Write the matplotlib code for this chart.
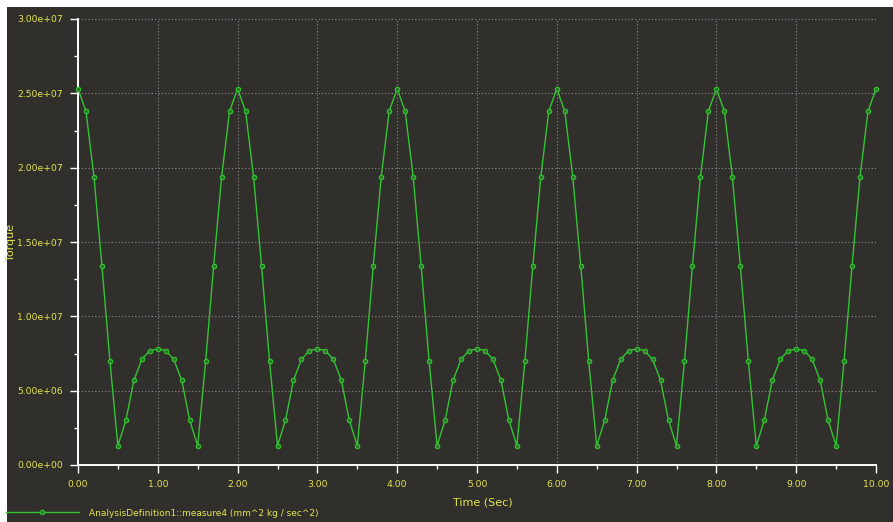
"""Torque vs time, dark analysis-tool style."""
import matplotlib
matplotlib.use('Agg')
import matplotlib.pyplot as plt
import numpy as np
from matplotlib.patches import Rectangle
from matplotlib.ticker import MultipleLocator, FormatStrFormatter

# sample times (s), every 0.1 s from 0 to 10
time_s = np.round(np.arange(0, 101) * 0.1, 1)

# torque values, in units of 1e7
torque_e7 = [
    2.53, 2.38, 1.94, 1.34, 0.70, 0.13, 0.30, 0.57, 0.71, 0.77,
    0.78, 0.77, 0.71, 0.57, 0.30, 0.13, 0.70, 1.34, 1.94, 2.38,
    2.53, 2.38, 1.94, 1.34, 0.70, 0.13, 0.30, 0.57, 0.71, 0.77,
    0.78, 0.77, 0.71, 0.57, 0.30, 0.13, 0.70, 1.34, 1.94, 2.38,
    2.53, 2.38, 1.94, 1.34, 0.70, 0.13, 0.30, 0.57, 0.71, 0.77,
    0.78, 0.77, 0.71, 0.57, 0.30, 0.13, 0.70, 1.34, 1.94, 2.38,
    2.53, 2.38, 1.94, 1.34, 0.70, 0.13, 0.30, 0.57, 0.71, 0.77,
    0.78, 0.77, 0.71, 0.57, 0.30, 0.13, 0.70, 1.34, 1.94, 2.38,
    2.53, 2.38, 1.94, 1.34, 0.70, 0.13, 0.30, 0.57, 0.71, 0.77,
    0.78, 0.77, 0.71, 0.57, 0.30, 0.13, 0.70, 1.34, 1.94, 2.38,
    2.53,
]
torque = np.array(torque_e7) * 1e7

series_label = 'AnalysisDefinition1::measure4 (mm^2 kg / sec^2)'

BG = '#312f2c'
YELLOW = '#e4e44c'
GREEN = '#33c433'
W, H = 893, 522

fig = plt.figure(figsize=(W / 100, H / 100), dpi=100, facecolor='white')
# dark panel, leaving a thin white strip at top and left
fig.patches.append(Rectangle((7 / W, 0), 1, 1 - 7 / H, transform=fig.transFigure,
                             facecolor=BG, edgecolor='none', zorder=-10))

ax = fig.add_axes([78 / W, (H - 465) / H, (876 - 78) / W, (465 - 19) / H])
ax.set_facecolor(BG)

line, = ax.plot(time_s, torque, color=GREEN, lw=1.0, marker='o', ms=3.2,
                mfc='#2a7a2a', mec=GREEN, mew=0.8, clip_on=False, zorder=3)

ax.set_xlim(0, 10)
ax.set_ylim(0, 3e7)

ax.xaxis.set_major_locator(MultipleLocator(1))
ax.xaxis.set_minor_locator(MultipleLocator(0.5))
ax.yaxis.set_major_locator(MultipleLocator(5e6))
ax.yaxis.set_minor_locator(MultipleLocator(2.5e6))
ax.xaxis.set_major_formatter(FormatStrFormatter('%.2f'))
ax.yaxis.set_major_formatter(FormatStrFormatter('%.2e'))

for s in ['top', 'right']:
    ax.spines[s].set_visible(False)
for s in ['left', 'bottom']:
    ax.spines[s].set_color('white')
    ax.spines[s].set_linewidth(1.4)

ax.tick_params(which='major', direction='out', length=6, width=1, color='white',
               labelcolor=YELLOW, labelsize=6.7, pad=5)
ax.tick_params(which='minor', direction='out', length=3, width=1, color='white')

ax.grid(True, which='major', color='#8c8c8c', linestyle=(0, (1, 2)), lw=0.8)
ax.set_axisbelow(True)

ax.set_xlabel('Time (Sec)', color=YELLOW, fontsize=8)
ax.set_ylabel('Torque', color=YELLOW, fontsize=8)
ax.xaxis.set_label_coords(0.507, -0.072)
ax.yaxis.set_label_coords(-0.078, 0.5)

leg = fig.legend(handles=[line], labels=[series_label], loc='center left',
                 bbox_to_anchor=(0, (H - 513) / H), frameon=False, fontsize=6.5,
                 handlelength=8.0, handletextpad=1.2, numpoints=1, borderaxespad=0.3)
for t in leg.get_texts():
    t.set_color(YELLOW)

fig.savefig('out.png', dpi=100, facecolor=fig.get_facecolor())
